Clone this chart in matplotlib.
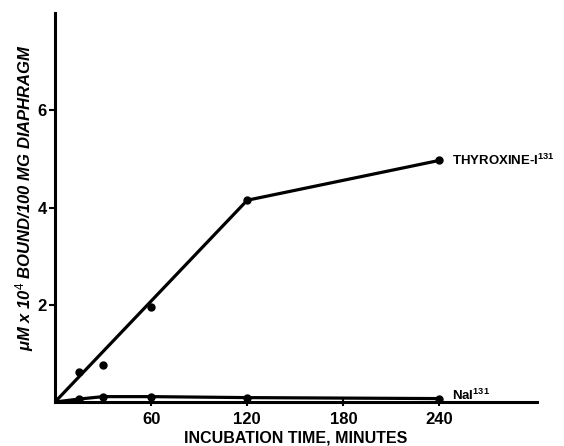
import matplotlib.pyplot as plt

plt.rcParams['font.family'] = ['Liberation Sans', 'DejaVu Sans']
plt.rcParams['mathtext.fontset'] = 'custom'
plt.rcParams['mathtext.rm'] = 'Liberation Sans'
plt.rcParams['mathtext.bf'] = 'Liberation Sans:bold'
plt.rcParams['mathtext.it'] = 'Liberation Sans:italic:bold'

# thyroxine-I131: fitted line and measured points
thy_line_t = [0, 120, 240]
thy_line_v = [0, 4.15, 4.97]
thy_pts_t = [15, 30, 60, 120, 240]
thy_pts_v = [0.62, 0.76, 1.96, 4.15, 4.97]

# NaI131
nai_t = [0, 15, 30, 60, 120, 240]
nai_v = [0, 0.06, 0.11, 0.11, 0.09, 0.07]

x_ticks = [60, 120, 180, 240]
y_ticks = [2, 4, 6]

fig = plt.figure(figsize=(5.64, 4.46), dpi=100)
ax = fig.add_axes([0.0975, 0.0987, 0.855, 0.872])

ax.plot(thy_line_t, thy_line_v, color='black', linewidth=2.3, solid_capstyle='round')
ax.plot(thy_pts_t, thy_pts_v, 'o', color='black', markersize=5)
ax.plot(nai_t, nai_v, color='black', linewidth=2.3, marker='o', markersize=5)

ax.text(248, 4.97, r'THYROXINE-I$^{\mathbf{131}}$', fontsize=9.5, fontweight='bold',
        va='center', ha='left')
ax.text(248, 0.14, r'NaI$^{\mathbf{131}}$', fontsize=9.5, fontweight='bold',
        va='center', ha='left')

ax.set_xlim(0, 301)
ax.set_ylim(0, 8)
ax.set_xticks(x_ticks)
ax.set_yticks(y_ticks)
ax.set_xticklabels([str(t) for t in x_ticks], fontsize=12, fontweight='bold')
ax.set_yticklabels([str(t) for t in y_ticks], fontsize=12, fontweight='bold')
ax.tick_params(axis='x', direction='inout', length=6, width=1.5, pad=4)
ax.tick_params(axis='y', direction='out', length=4, width=1.5, pad=2)

for side in ['top', 'right']:
    ax.spines[side].set_visible(False)
for side in ['left', 'bottom']:
    ax.spines[side].set_linewidth(2.2)

ax.set_xlabel('INCUBATION TIME, MINUTES', fontsize=11.5, fontweight='bold', labelpad=3)
ax.set_ylabel(r'$\mu$M x 10$^4$ BOUND/100 MG DIAPHRAGM', fontsize=12,
              fontweight='bold', style='italic')
ax.yaxis.set_label_coords(-0.04, 0.527)

fig.savefig('out.png', dpi=100)
